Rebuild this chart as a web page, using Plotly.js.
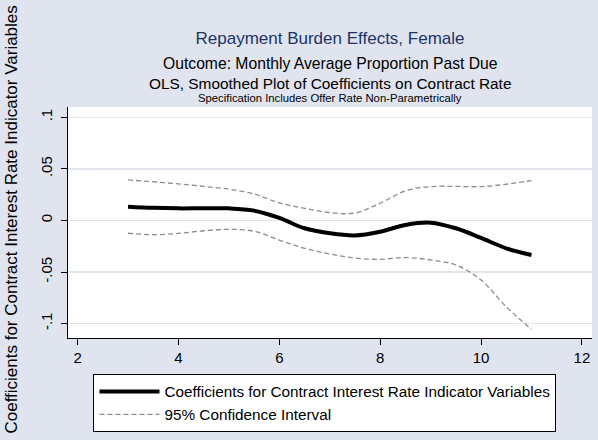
<!DOCTYPE html>
<html>
<head>
<meta charset="utf-8">
<script src="https://cdn.plot.ly/plotly-3.0.1.min.js"></script>
<style>html,body{margin:0;padding:0;background:#dfe4ef;}#chart{width:598px;height:440px;}</style>
</head>
<body>
<div id="chart"></div>
<script>
// Contract interest rate (x)
var rate = [3, 3.5, 4, 4.5, 5, 5.5, 6, 6.5, 7, 7.5, 8, 8.5, 9, 9.5, 10, 10.5, 11];
// Smoothed coefficient estimates
var coef = [0.0133, 0.0122, 0.0117, 0.0118, 0.0117, 0.0095, 0.0025, -0.0076, -0.0124, -0.0145, -0.0109, -0.0044, -0.0022, -0.0076, -0.0170, -0.0270, -0.0335];
// 95% confidence interval bounds
var upper = [0.0393, 0.0375, 0.0354, 0.0330, 0.0303, 0.0257, 0.0170, 0.0118, 0.0076, 0.0072, 0.0167, 0.0286, 0.0328, 0.0330, 0.0328, 0.0351, 0.0387];
var lower = [-0.0124, -0.0138, -0.0126, -0.0100, -0.0086, -0.0105, -0.0190, -0.0270, -0.0325, -0.0365, -0.0377, -0.0360, -0.0383, -0.0432, -0.0578, -0.0837, -0.1056];
var yTickVals = [-0.1, -0.05, 0, 0.05, 0.1];
var yTickText = ['-.1', '-.05', '0', '.05', '.1'];
var xTickVals = [2, 4, 6, 8, 10, 12];

var FONT = 'Arial, "Liberation Sans", sans-serif';
var traces = [
  {x: rate, y: coef, type: 'scatter', mode: 'lines', name: 'Coefficients for Contract Interest Rate Indicator Variables',
   line: {color: '#000000', width: 4, shape: 'spline', smoothing: 1}},
  {x: rate, y: upper, type: 'scatter', mode: 'lines', name: '95% Confidence Interval',
   line: {color: '#8c8c8c', width: 1.3, dash: '5px,3px', shape: 'spline', smoothing: 1}},
  {x: rate, y: lower, type: 'scatter', mode: 'lines', name: '95% Confidence Interval', showlegend: false,
   line: {color: '#8c8c8c', width: 1.3, dash: '5px,3px', shape: 'spline', smoothing: 1}}
];

// plot area in px: left 67.5, right 592, top 107, bottom 338
function py(px) { return (338 - px) / 231; }
function pxX(px) { return (px - 67.5) / 524.5; }

var layout = {
  width: 598, height: 440,
  paper_bgcolor: '#dfe4ef', plot_bgcolor: '#ffffff',
  margin: {l: 67.5, r: 6, t: 107, b: 102, pad: 0},
  font: {family: FONT, size: 13, color: '#000000'},
  title: {text: 'Repayment Burden Effects, Female', font: {family: FONT, size: 17, color: '#1c3566'},
          x: 0.5, xref: 'paper', xanchor: 'center', y: 1 - 38/440, yref: 'container', yanchor: 'middle'},
  xaxis: {range: [1.81, 12.2], tickvals: xTickVals, ticks: 'outside', ticklen: 6, tickwidth: 1, tickcolor: '#000',
          showline: true, linecolor: '#000', linewidth: 1.2, showgrid: false, zeroline: false,
          tickfont: {size: 15}},
  yaxis: {range: [-0.114, 0.110], tickvals: yTickVals, ticktext: yTickText, tickangle: -90,
          ticks: 'outside', ticklen: 6, tickwidth: 1, tickcolor: '#000',
          showline: true, linecolor: '#000', linewidth: 1.2, showgrid: true, gridcolor: '#e1e6f0', gridwidth: 1.5,
          zeroline: false, tickfont: {size: 15}, ticklabelstandoff: 3},
  showlegend: true,
  legend: {x: pxX(93), xanchor: 'left', y: py(374), yanchor: 'top', orientation: 'v',
           bgcolor: '#ffffff', bordercolor: '#000000', borderwidth: 1,
           font: {family: FONT, size: 15.3}, itemwidth: 60, tracegroupgap: 0},
  annotations: [
    {text: 'Outcome: Monthly Average Proportion Past Due', xref: 'paper', yref: 'paper', x: 0.5, y: py(63),
     xanchor: 'center', yanchor: 'middle', showarrow: false, font: {size: 15.7}},
    {text: 'OLS, Smoothed Plot of Coefficients on Contract Rate', xref: 'paper', yref: 'paper', x: 0.5, y: py(83),
     xanchor: 'center', yanchor: 'middle', showarrow: false, font: {size: 15.4}},
    {text: 'Specification Includes Offer Rate Non-Parametrically', xref: 'paper', yref: 'paper', x: 0.5, y: py(98),
     xanchor: 'center', yanchor: 'middle', showarrow: false, font: {size: 11.3}},
    {text: 'Coefficients for Contract Interest Rate Indicator Variables', xref: 'paper', yref: 'paper',
     x: pxX(10), y: py(220), xanchor: 'center', yanchor: 'middle', textangle: -90, showarrow: false, font: {size: 17}}
  ]
};

Plotly.newPlot('chart', traces, layout, {displayModeBar: false, staticPlot: true});
</script>
</body>
</html>
